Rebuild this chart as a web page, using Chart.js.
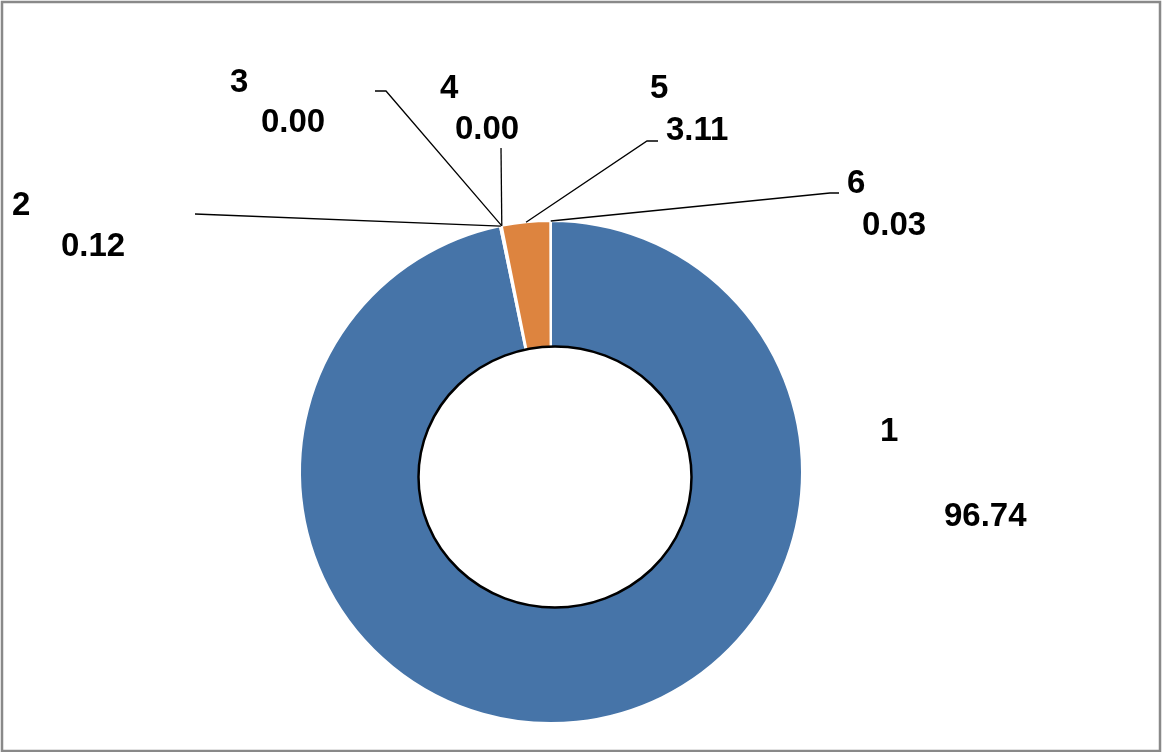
<!DOCTYPE html>
<html>
<head>
<meta charset="utf-8">
<script src="https://cdn.jsdelivr.net/npm/chart.js@4/dist/chart.umd.min.js"></script>
<style>
  html, body { margin: 0; padding: 0; background: #fff; }
  #wrap { position: relative; width: 1162px; height: 752px; }
</style>
</head>
<body>
<div id="wrap"><canvas id="myChart" width="1162" height="752"></canvas></div>
<script>
const categories = ['1', '2', '3', '4', '5', '6'];
const values = [96.74, 0.12, 0.00, 0.00, 3.11, 0.03];
const valueLabels = ['96.74', '0.12', '0.00', '0.00', '3.11', '0.03'];

const sliceColors = ['#4674A8', '#4674A8', '#4674A8', '#4674A8', '#DD843F', '#4674A8'];

// where each label sits (name line, value line) and the leader line elbow
const labelLayout = [
  { name: [880, 432], value: [944, 517], leader: null },
  { name: [12, 206], value: [61, 247], leader: [[195, 214]] },
  { name: [230, 83], value: [261, 123], leader: [[375, 91], [386, 91]] },
  { name: [440, 89], value: [455, 130], leader: [[501, 148]] },
  { name: [650, 89], value: [666, 131], leader: [[658, 141], [647, 141]] },
  { name: [847, 184], value: [862, 226], leader: [[839, 193], [830, 193]] }
];

const labelsPlugin = {
  id: 'labelsPlugin',
  beforeDraw(chart) {
    const ctx = chart.ctx;
    ctx.save();
    ctx.strokeStyle = '#898989';
    ctx.lineWidth = 2.5;
    ctx.strokeRect(2, 2, chart.width - 4, chart.height - 3);
    ctx.restore();
  },
  afterDatasetsDraw(chart) {
    const ctx = chart.ctx;
    const arcs = chart.getDatasetMeta(0).data;
    const c = arcs[0].getProps(['x', 'y', 'outerRadius']);

    // inner hole, drawn as its own outlined shape
    ctx.save();
    ctx.beginPath();
    ctx.ellipse(c.x + 4, c.y + 5, 136.5, 130.5, 0, 0, Math.PI * 2);
    ctx.fillStyle = '#fff';
    ctx.fill();
    ctx.lineWidth = 2.5;
    ctx.strokeStyle = '#000';
    ctx.stroke();
    ctx.restore();

    // leader lines
    ctx.save();
    ctx.strokeStyle = '#000';
    ctx.lineWidth = 1.3;
    arcs.forEach((arc, i) => {
      const lay = labelLayout[i];
      if (!lay.leader) return;
      const p = arc.getProps(['x', 'y', 'startAngle', 'endAngle', 'outerRadius']);
      const mid = (p.startAngle + p.endAngle) / 2;
      const ex = p.x + Math.cos(mid) * p.outerRadius;
      const ey = p.y + Math.sin(mid) * p.outerRadius;
      ctx.beginPath();
      ctx.moveTo(lay.leader[0][0], lay.leader[0][1]);
      for (let k = 1; k < lay.leader.length; k++) {
        ctx.lineTo(lay.leader[k][0], lay.leader[k][1]);
      }
      ctx.lineTo(ex, ey);
      ctx.stroke();
    });
    ctx.restore();

    // label text
    ctx.save();
    ctx.fillStyle = '#000';
    ctx.font = 'bold 33px "Liberation Sans", Arial, sans-serif';
    ctx.textAlign = 'left';
    ctx.textBaseline = 'middle';
    categories.forEach((cat, i) => {
      const lay = labelLayout[i];
      ctx.fillText(cat, lay.name[0], lay.name[1]);
      ctx.fillText(valueLabels[i], lay.value[0], lay.value[1]);
    });
    ctx.restore();
  }
};

const data = {
  labels: categories,
  datasets: [{
    data: values,
    backgroundColor: sliceColors,
    borderColor: '#ffffff',
    borderWidth: 2,
    radius: 251,
    cutout: 100
  }]
};

const config = {
  type: 'doughnut',
  data: data,
  options: {
    responsive: false,
    animation: false,
    layout: { padding: { left: 0, right: 60, top: 200, bottom: 8 } },
    plugins: {
      legend: { display: false },
      tooltip: { enabled: false }
    }
  },
  plugins: [labelsPlugin]
};

const myChart = new Chart(document.getElementById('myChart'), config);
</script>
</body>
</html>
